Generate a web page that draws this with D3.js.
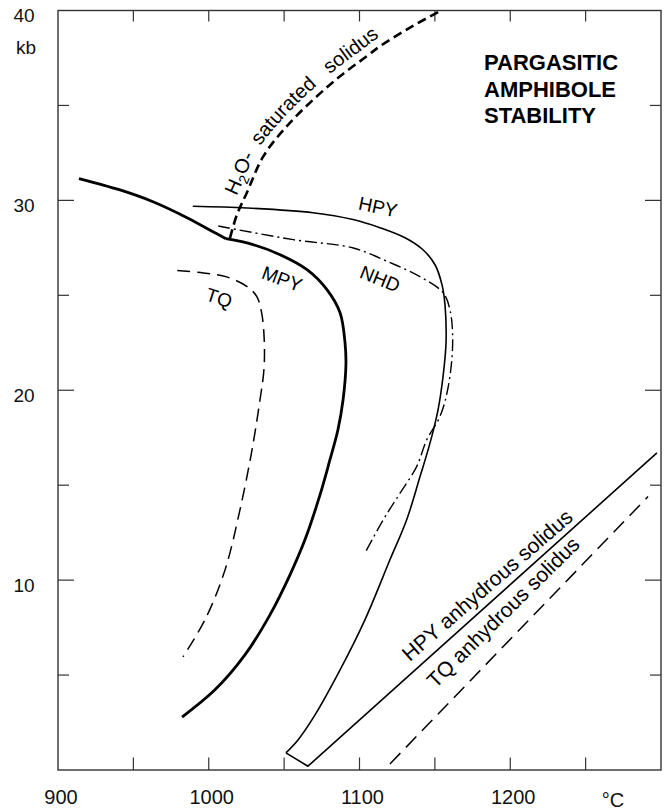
<!DOCTYPE html>
<html>
<head>
<meta charset="utf-8">
<script src="https://cdn.jsdelivr.net/npm/d3@7"></script>
<style>
  body { margin: 0; background: #fff; }
  svg { display: block; font-family: "Liberation Sans", Arial, Helvetica, sans-serif; }
</style>
</head>
<body>
<div id="chart"></div>
<script>
// ── Data: temperature (°C), pressure (kb) ──
const tempLabels = [900, 1000, 1100, 1200];
const pressLabels = [10, 20, 30];

// MPY solidus (thick), kinked at the H2O-saturated solidus
const mpyUpper = [[913.9,31.15],[941.1,30.55],[963.0,29.93],[985.6,29.09],[1002.8,28.35],[1011.4,27.98]];
const mpyLower = [[1011.4,27.98],[1029.4,27.67],[1047.3,27.14],[1065.2,26.35],[1078.4,25.3],[1087.1,24.08],
  [1090.4,22.5],[1091.0,21.34],[1089.1,19.5],[1085.7,17.92],[1080.4,16.34],[1073.8,14.49],[1063.8,12.12],
  [1053.9,10.28],[1040.6,8.17],[1024.0,6.06],[1004.1,4.22],[982.3,2.79]];

// HPY (thin solid)
const hpy = [[989.4,29.69],[1025.2,29.6],[1069.2,29.35],[1095.7,28.99],[1113.6,28.56],[1130.2,28.03],
  [1142.1,27.4],[1150.1,26.61],[1154.7,25.56],[1156.7,24.51],[1157.4,22.5],[1155.4,20.71],[1152.1,18.97],
  [1146.8,17.23],[1140.1,15.44],[1131.3,13.18],[1120.2,11.07],[1103.6,7.91],[1087.1,5.27],[1070.5,2.9],
  [1059.2,1.58],[1051.2,0.9]];
const hpyAnhydrous = [[1051.2,0.9],[1065.8,0.2],[1297.3,16.7]];

// TQ (dashed)
const tq = [[979.1,26.31],[996.4,26.18],[1011.9,25.97],[1025.2,25.47],[1031.8,24.94],[1035.1,24.07],
  [1036.8,22.66],[1036.6,21.08],[1034.0,19.5],[1028.7,16.86],[1020.7,13.7],[1010.8,10.54],[997.5,7.91],[982.9,5.96]];
const tqAnhydrous = [[1120.2,0.32],[1291.4,14.4]];

// NHD (dash-dot)
const nhd = [[1006.3,28.65],[1056.1,27.93],[1095.9,27.49],[1118.9,26.77],[1140.1,25.98],[1155.4,25.14],
  [1160.0,24.24],[1161.8,22.5],[1158.9,20.2],[1153.4,18.62],[1144.6,17.39],[1137.9,15.98],[1126.9,14.58],
  [1115.8,13.18],[1103.6,11.42]];

// H2O-saturated solidus (thick dashed)
const h2o = [[1014.1,28.02],[1018.7,29.25],[1025.2,30.39],[1036.2,32.32],[1051.7,33.9],[1069.4,35.31],
  [1087.1,36.54],[1104.8,37.59],[1113.6,38.12],[1133.5,39.1],[1154.1,40.0]];

const W = 667, H = 810;
const x = d3.scaleLinear().domain([900, 1300]).range([58, 661]);
const y = d3.scaleLinear().domain([0, 40]).range([770, 10.5]);

const svg = d3.select('#chart').append('svg').attr('width', W).attr('height', H);

// ── Frame & ticks ──
const frame = svg.append('g').attr('stroke', '#333').attr('fill', 'none');
frame.append('rect')
  .attr('x', x(900)).attr('y', y(40))
  .attr('width', x(1300) - x(900)).attr('height', y(0) - y(40))
  .attr('stroke-width', 1.4);

d3.range(950, 1300, 50).forEach(t => {
  frame.append('line').attr('x1', x(t)).attr('x2', x(t)).attr('y1', y(0)).attr('y2', y(0) - 12.5).attr('stroke-width', 1.2);
  frame.append('line').attr('x1', x(t)).attr('x2', x(t)).attr('y1', y(40)).attr('y2', y(40) + 11).attr('stroke-width', 1.2);
});
d3.range(5, 40, 5).forEach(p => {
  const len = pressLabels.includes(p) ? 16 : 11;
  frame.append('line').attr('x1', x(900)).attr('x2', x(900) + len).attr('y1', y(p)).attr('y2', y(p)).attr('stroke-width', 1.2);
  frame.append('line').attr('x1', x(1300)).attr('x2', x(1300) - len).attr('y1', y(p)).attr('y2', y(p)).attr('stroke-width', 1.2);
});

// ── Axis labels ──
const lab = svg.append('g').attr('fill', '#111');
tempLabels.forEach(t => {
  lab.append('text').attr('x', x(t) + 3).attr('y', 804)
    .attr('text-anchor', 'middle').attr('font-size', 20).text(t);
});
lab.append('text').attr('x', 613).attr('y', 807).attr('text-anchor', 'middle').attr('font-size', 20).text('°C');
pressLabels.concat([40]).forEach(p => {
  lab.append('text').attr('x', 24).attr('y', y(p) + 5).attr('dominant-baseline', 'central')
    .attr('text-anchor', 'middle').attr('font-size', 19).text(p);
});
lab.append('text').attr('x', 26).attr('y', 47).attr('dominant-baseline', 'central')
  .attr('text-anchor', 'middle').attr('font-size', 19).text('kb');

// ── Curves ──
const smooth = d3.line().x(d => x(d[0])).y(d => y(d[1])).curve(d3.curveCatmullRom.alpha(0.5));
const straight = d3.line().x(d => x(d[0])).y(d => y(d[1]));
const curves = svg.append('g').attr('fill', 'none').attr('stroke', '#000');

function draw(data, gen, width, dash) {
  curves.append('path').attr('d', gen(data))
    .attr('stroke-width', width)
    .attr('stroke-dasharray', dash || null)
    .attr('stroke-linejoin', 'round');
}
draw(mpyUpper, smooth, 2.8, null);
draw(mpyLower, smooth, 2.8, null);
draw(hpy, smooth, 1.6, null);
draw(hpyAnhydrous, straight, 1.6, null);
draw(tq, smooth, 1.5, '13,7');
draw(tqAnhydrous, straight, 1.5, '15,8');
draw(nhd, smooth, 1.4, '12,4,2,4');
draw(h2o, smooth, 2.6, '9,5');

// ── Curve labels ──
const cl = svg.append('g').attr('fill', '#000').attr('font-size', 19).attr('text-anchor', 'middle')
  .attr('dominant-baseline', 'central');
[['HPY', 378, 207, 12], ['NHD', 380, 279, 22], ['MPY', 282, 279, 20], ['TQ', 219, 298, 18]]
  .forEach(([t, cx, cy, a]) => {
    cl.append('text').attr('transform', `translate(${cx},${cy}) rotate(${a})`).text(t);
  });
[['HPY anhydrous solidus', 487, 585, -41], ['TQ anhydrous solidus', 503, 612, -44.5]]
  .forEach(([t, cx, cy, a]) => {
    cl.append('text').attr('font-size', 21)
      .attr('transform', `translate(${cx},${cy}) rotate(${a})`).text(t);
  });

// H2O-saturated solidus label follows the dashed curve, offset to its upper-left
const pts = h2o.map(d => [x(d[0]), y(d[1])]);
const off = pts.map((p, i) => {
  const a = pts[Math.max(0, i - 1)], b = pts[Math.min(pts.length - 1, i + 1)];
  const dx = b[0] - a[0], dy = b[1] - a[1], n = Math.hypot(dx, dy);
  return [p[0] + 8 * dy / n, p[1] - 8 * dx / n];
});
svg.append('defs').append('path').attr('id', 'h2oPath')
  .attr('d', d3.line().curve(d3.curveCatmullRom.alpha(0.5))(off));
const tp = svg.append('text').attr('font-size', 20).attr('fill', '#000')
  .append('textPath').attr('href', '#h2oPath').attr('startOffset', 42);
tp.append('tspan').text('H');
tp.append('tspan').attr('dy', 5).attr('font-size', 14).text('2');
tp.append('tspan').attr('dy', -5).text('O-\u00a0 saturated\u00a0\u00a0 solidus');

// ── Title ──
const title = svg.append('g').attr('font-size', 22).attr('font-weight', 'bold').attr('fill', '#000');
['PARGASITIC', 'AMPHIBOLE', 'STABILITY'].forEach((t, i) => {
  title.append('text').attr('x', 484).attr('y', 70 + i * 26.5).text(t);
});
</script>
</body>
</html>
